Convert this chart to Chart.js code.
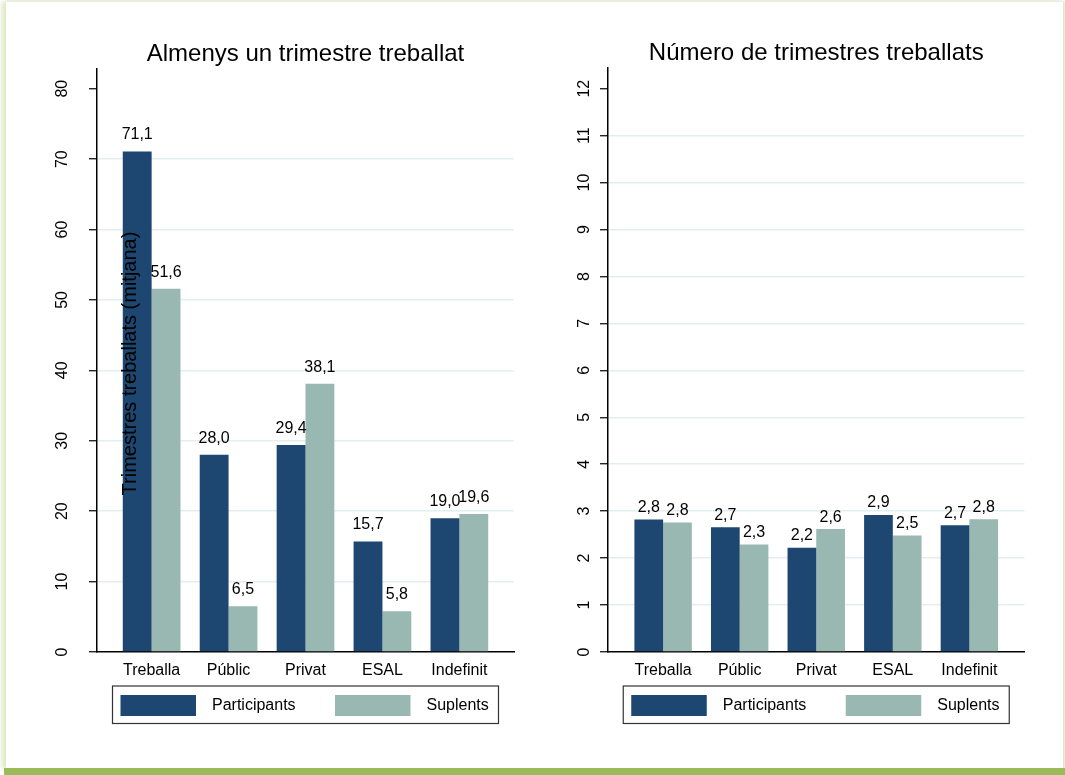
<!DOCTYPE html>
<html>
<head>
<meta charset="utf-8">
<script src="https://cdn.jsdelivr.net/npm/chart.js@4.4.1/dist/chart.umd.min.js"></script>
<style>
  body { margin: 0; background: #fff; width: 1065px; height: 775px; overflow: hidden; position: relative; }
  .frame { position: absolute; left: 6px; top: 1px; width: 1057px; height: 767px; background: #fff;
           border-top: 1px solid #e9eee4;
           box-shadow: -4px 0 5px rgba(155, 187, 89, 0.35), 2px 0 2px rgba(155, 187, 89, 0.35); }
  .band { position: absolute; left: 4px; top: 768px; width: 1061px; height: 7px; background: #9bbb59; }
  canvas { position: absolute; top: 0; }
  #leftChart { left: 0; }
  #rightChart { left: 540px; }
</style>
</head>
<body>
<div class="frame"></div>
<div class="band"></div>
<canvas id="leftChart" width="540" height="775"></canvas>
<canvas id="rightChart" width="525" height="775"></canvas>
<script>
const categories = ['Treballa', 'Públic', 'Privat', 'ESAL', 'Indefinit'];
const seriesNames = ['Participants', 'Suplents'];

// Almenys un trimestre treballat (%)
const almenysParticipants = [71.1, 28.0, 29.4, 15.7, 19.0];
const almenysSuplents = [51.6, 6.5, 38.1, 5.8, 19.6];
const almenysTicks = [0, 10, 20, 30, 40, 50, 60, 70, 80];

// Número de trimestres treballats
const numeroParticipants = [2.82, 2.66, 2.22, 2.92, 2.70];
const numeroSuplents = [2.76, 2.29, 2.62, 2.48, 2.83];
const numeroTicks = [0, 1, 2, 3, 4, 5, 6, 7, 8, 9, 10, 11, 12];

const FONT = '"Liberation Sans", Arial, sans-serif';
const colors = ['#1d4670', '#98b8b1'];

const panelDecor = {
    id: 'panelDecor',
    afterDraw(chart, args, opts) {
        const { ctx, chartArea: area, scales: { y } } = chart;
        const mid = (area.left + area.right) / 2;
        ctx.save();
        ctx.fillStyle = '#000';

        // title
        ctx.font = '24px ' + FONT;
        ctx.textAlign = 'center';
        ctx.textBaseline = 'alphabetic';
        ctx.fillText(opts.title, mid, area.top - 8);

        // rotated y tick labels
        ctx.font = '16px ' + FONT;
        ctx.textBaseline = 'middle';
        y.ticks.forEach((t) => {
            ctx.save();
            ctx.translate(area.left - opts.tickLabelOffset, y.getPixelForValue(t.value));
            ctx.rotate(-Math.PI / 2);
            ctx.fillText(String(t.value), 0, 0);
            ctx.restore();
        });

        // y axis title (sits over the bars in the original)
        if (opts.yTitle) {
            ctx.save();
            ctx.font = '20px ' + FONT;
            ctx.translate(area.left + 33, (area.top + area.bottom) / 2 + 3);
            ctx.rotate(-Math.PI / 2);
            ctx.fillText(opts.yTitle, 0, 0);
            ctx.restore();
        }

        // value labels above bars
        ctx.font = '16px ' + FONT;
        ctx.textBaseline = 'alphabetic';
        chart.data.datasets.forEach((ds, di) => {
            chart.getDatasetMeta(di).data.forEach((bar, i) => {
                const v = ds.data[i].y;
                ctx.fillText(v.toFixed(1).replace('.', ','), bar.x, bar.y - opts.labelGap);
            });
        });

        // boxed legend
        const bw = 386, bh = 37.5;
        const bx = mid - bw / 2, by = area.bottom + 34;
        ctx.strokeStyle = '#333';
        ctx.lineWidth = 1.2;
        ctx.strokeRect(bx, by, bw, bh);
        ctx.font = '16px ' + FONT;
        ctx.textAlign = 'left';
        ctx.textBaseline = 'middle';
        chart.data.datasets.forEach((ds, i) => {
            const sx = bx + 8 + i * 214.5;
            ctx.fillStyle = ds.backgroundColor;
            ctx.fillRect(sx, by + 9, 75.5, 21);
            ctx.fillStyle = '#000';
            ctx.fillText(ds.label, sx + 91.5, by + 20);
        });
        ctx.restore();
    }
};

function makePanel(canvasId, participants, suplents, yTicks, yMax, xPad, decor, padding) {
    const datasets = [participants, suplents].map((vals, s) => ({
        label: seriesNames[s],
        data: categories.map((c, i) => ({ x: i, y: vals[i] })),
        backgroundColor: colors[s],
        borderWidth: 0,
        categoryPercentage: 0.75,
        barPercentage: 1.0
    }));
    const topTick = yTicks[yTicks.length - 1];
    return new Chart(document.getElementById(canvasId).getContext('2d'), {
        type: 'bar',
        data: { datasets: datasets },
        options: {
            responsive: false,
            animation: false,
            layout: { padding: padding },
            plugins: {
                legend: { display: false },
                tooltip: { enabled: false },
                panelDecor: decor
            },
            scales: {
                x: {
                    type: 'linear',
                    offset: false,
                    min: -xPad,
                    max: categories.length - 1 + xPad,
                    afterBuildTicks: (scale) => { scale.ticks = categories.map((c, i) => ({ value: i })); },
                    afterFit: (scale) => { scale.height = 30; },
                    ticks: {
                        callback: (v) => categories[v],
                        font: { family: FONT, size: 16 },
                        color: '#000',
                        padding: 9,
                        maxRotation: 0,
                        autoSkip: false
                    },
                    grid: { display: false, drawTicks: false, offset: false },
                    border: { display: true, color: '#000', width: 1.5 }
                },
                y: {
                    min: 0,
                    max: yMax,
                    afterBuildTicks: (scale) => { scale.ticks = yTicks.map((v) => ({ value: v })); },
                    afterFit: (scale) => { scale.width = 40; },
                    ticks: { display: false },
                    grid: {
                        color: (c) => (c.tick && (c.tick.value === 0 || c.tick.value === topTick)) ? 'rgba(0,0,0,0)' : '#e4edf0',
                        lineWidth: 1.5,
                        tickColor: '#000',
                        tickWidth: 1.2,
                        tickLength: 8
                    },
                    border: { display: true, color: '#000', width: 1.5 }
                }
            }
        },
        plugins: [panelDecor]
    });
}

makePanel('leftChart', almenysParticipants, almenysSuplents, almenysTicks, 82.8, 0.71,
    { title: 'Almenys un trimestre treballat', yTitle: 'Trimestres treballats (mitjana)', tickLabelOffset: 34, labelGap: 12 },
    { top: 69, left: 57, right: 26, bottom: 93 });

makePanel('rightChart', numeroParticipants, numeroSuplents, numeroTicks, 12.44, 0.72,
    { title: 'Número de trimestres treballats', yTitle: '', tickLabelOffset: 23, labelGap: 7.5 },
    { top: 68, left: 28, right: 40.5, bottom: 93 });
</script>
</body>
</html>
